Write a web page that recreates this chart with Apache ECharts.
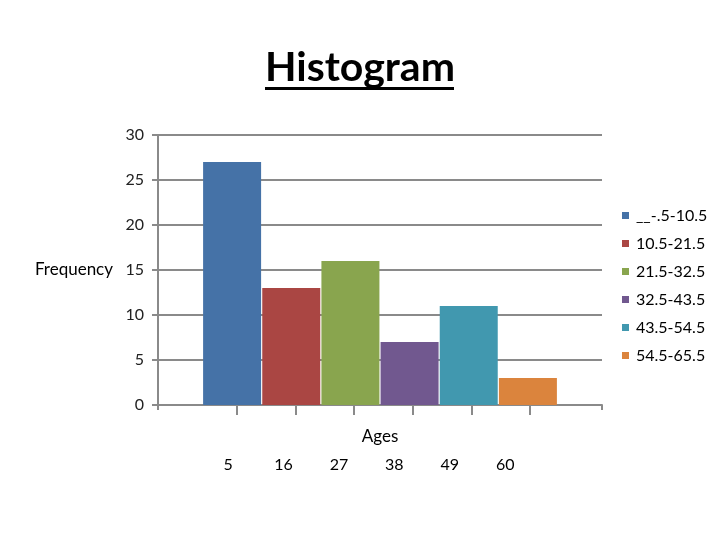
<!DOCTYPE html>
<html>
<head>
<meta charset="utf-8">
<script src="https://cdn.jsdelivr.net/npm/echarts@6/dist/echarts.min.js"></script>
<style>html,body{margin:0;padding:0;background:#fff}#c{width:720px;height:540px}</style>
</head>
<body>
<div id="c"></div>
<script>
var classNames = ['__-.5-10.5', '10.5-21.5', '21.5-32.5', '32.5-43.5', '43.5-54.5', '54.5-65.5'];
var frequencies = [27, 13, 16, 7, 11, 3];
var midpoints = [5, 16, 27, 38, 49, 60];
var colors = ['#4572A7', '#AA4643', '#89A54E', '#71588F', '#4198AF', '#DB843D'];

var FONT = 'Lato';
var axisGray = '#8a8a8a';

var series = classNames.map(function (name, i) {
  return {
    name: name,
    type: 'bar',
    xAxisIndex: 0,
    yAxisIndex: 0,
    barWidth: 58,
    barGap: '2%',
    barCategoryGap: '20%',
    itemStyle: { color: colors[i] },
    data: [frequencies[i]]
  };
});

var chart = echarts.init(document.getElementById('c'));
chart.setOption({
  animation: false,
  title: {
    text: 'Histogram',
    left: 'center',
    top: 42,
    textStyle: { fontFamily: FONT, fontSize: 41, fontWeight: 'bold', color: '#000' }
  },
  graphic: [{
    type: 'rect',
    shape: { x: 265, y: 87, width: 189, height: 3 },
    style: { fill: '#000' }
  }],
  legend: {
    orient: 'vertical',
    left: 617,
    top: 201,
    itemWidth: 7,
    itemHeight: 7,
    itemGap: 9,
    icon: 'rect',
    selectedMode: false,
    textStyle: { fontFamily: FONT, fontSize: 16, color: '#000', padding: [0, 0, 0, 2], lineHeight: 19 },
    data: classNames
  },
  grid: { left: 158, right: 118, top: 135, bottom: 135, containLabel: false },
  xAxis: [
    {
      type: 'category',
      data: [''],
      name: 'Ages',
      nameLocation: 'middle',
      nameGap: 23,
      nameTextStyle: { fontFamily: FONT, fontSize: 17, color: '#000' },
      axisLine: { show: true, onZero: false, lineStyle: { color: axisGray, width: 2 } },
      axisTick: { show: true, length: 5, lineStyle: { color: axisGray, width: 2 } },
      axisLabel: { show: false }
    },
    {
      type: 'value',
      min: -9.8,
      max: 73.5,
      position: 'bottom',
      axisLine: { show: false, onZero: false },
      axisTick: { show: true, length: 10, customValues: midpoints, lineStyle: { color: axisGray, width: 2 } },
      axisLabel: { show: false },
      splitLine: { show: false }
    },
    {
      type: 'value',
      min: -8.9,
      max: 79.2,
      position: 'bottom',
      axisLine: { show: false, onZero: false },
      axisTick: { show: false },
      axisLabel: {
        show: true,
        customValues: midpoints,
        margin: 52,
        fontFamily: FONT,
        fontSize: 16,
        color: '#000'
      },
      splitLine: { show: false }
    }
  ],
  yAxis: {
    type: 'value',
    min: 0,
    max: 30,
    interval: 5,
    name: 'Frequency',
    nameLocation: 'middle',
    nameRotate: 0,
    nameGap: 45,
    nameTextStyle: { fontFamily: FONT, fontSize: 17, color: '#000', align: 'right', verticalAlign: 'middle' },
    axisLine: { show: true, onZero: false, lineStyle: { color: axisGray, width: 2 } },
    axisTick: { show: true, length: 6, lineStyle: { color: axisGray, width: 2 } },
    axisLabel: { fontFamily: FONT, fontSize: 16, color: '#222', margin: 14 },
    splitLine: { show: true, lineStyle: { color: axisGray, width: 2 } }
  },
  series: series
});
</script>
</body>
</html>
